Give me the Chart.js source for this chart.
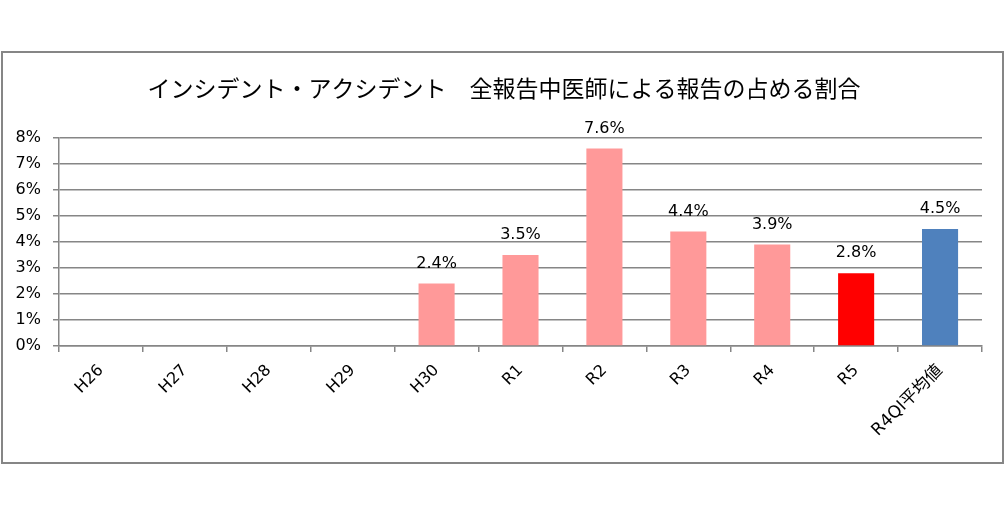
<!DOCTYPE html>
<html><head><meta charset="utf-8">
<script src="https://cdn.jsdelivr.net/npm/chart.js@4"></script>
<style>html,body{margin:0;padding:0;background:#fff;}#wrap{width:1006px;height:516px;position:relative;}</style>
</head><body><div id="wrap"><canvas id="c" width="1006" height="516"></canvas></div>
<script>
const titleText = 'インシデント・アクシデント　全報告中医師による報告の占める割合';
const categories = ['H26','H27','H28','H29','H30','R1','R2','R3','R4','R5','R4QI平均値'];
const values = [null,null,null,null,2.4,3.5,7.6,4.4,3.9,2.8,4.5];
const barColors = ['#FF9999','#FF9999','#FF9999','#FF9999','#FF9999','#FF9999','#FF9999','#FF9999','#FF9999','#FF0000','#4F81BD'];
const yTicks = [0,1,2,3,4,5,6,7,8];

const FONT = "'DejaVu Sans', 'Noto Sans CJK JP', sans-serif";
const TFONT = "'Noto Sans CJK JP', sans-serif";

const decor = {
  id: 'decor',
  beforeDraw(chart) {
    const ctx = chart.ctx;
    ctx.save();
    ctx.fillStyle = '#fff';
    ctx.fillRect(0,0,chart.width,chart.height);
    ctx.strokeStyle = '#868686';
    ctx.lineWidth = 2;
    ctx.strokeRect(2, 52, 1001, 411);
    ctx.fillStyle = '#000';
    ctx.font = '23px ' + TFONT;
    ctx.textAlign = 'center';
    ctx.textBaseline = 'middle';
    ctx.fillText(titleText, 504, 88);
    ctx.restore();
  },
  afterDatasetsDraw(chart) {
    const ctx = chart.ctx;
    const meta = chart.getDatasetMeta(0);
    ctx.save();
    ctx.fillStyle = '#000';
    ctx.font = '16px ' + FONT;
    ctx.textAlign = 'center';
    ctx.textBaseline = 'middle';
    meta.data.forEach((bar, i) => {
      const v = values[i];
      if (v === null) return;
      ctx.fillText(v.toFixed(1) + '%', bar.x, bar.y - 20);
    });
    ctx.restore();
  }
};

new Chart(document.getElementById('c'), {
  type: 'bar',
  data: {
    labels: categories,
    datasets: [{
      data: values,
      backgroundColor: barColors,
      borderWidth: 0,
      barPercentage: 0.43,
      categoryPercentage: 1.0
    }]
  },
  options: {
    responsive: false,
    animation: false,
    devicePixelRatio: 1,
    layout: { padding: { left: 0, right: 24, top: 138, bottom: 0 } },
    plugins: { legend: { display: false }, title: { display: false }, tooltip: { enabled: false } },
    scales: {
      x: {
        afterFit(s) { s.height = 170; },
        grid: { display: true, drawOnChartArea: false, drawTicks: true, tickLength: 6, color: '#868686', lineWidth: 1.5, offset: true },
        border: { display: true, color: '#868686', width: 1.5 },
        ticks: { color: '#000', font: c => ({ family: FONT, size: c.index === 10 ? 17 : 16 }), minRotation: 45, maxRotation: 45, padding: 9, autoSkip: false }
      },
      y: {
        min: 0, max: 8,
        afterFit(s) { s.width = 59; },
        afterBuildTicks(s) { s.ticks = yTicks.map(v => ({ value: v })); },
        grid: { color: '#868686', lineWidth: 1.5, drawTicks: true, tickLength: 6 },
        border: { display: true, color: '#868686', width: 1.5 },
        ticks: { color: '#000', font: { family: FONT, size: 16 }, padding: 12, callback: v => v + '%' }
      }
    }
  },
  plugins: [decor]
});
</script></body></html>
